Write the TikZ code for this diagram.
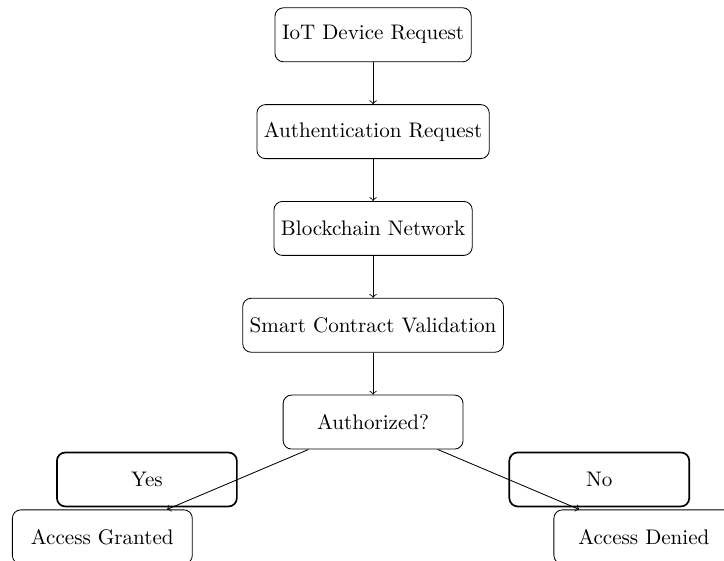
\documentclass[tikz,border=0pt]{standalone}
\usetikzlibrary{positioning}
\begin{document}
\begin{tikzpicture}[node distance=0.7cm,
 box/.style={draw,rounded corners,minimum width=3cm,minimum height=0.9cm,align=center},
 flow/.style={->}]
 \useasboundingbox (-6.22,0.58) rectangle (5.85,-8.77);
 \node[box] (iot) at (0,0) {IoT Device Request};
 \node[box,below=of iot] (auth) {Authentication Request};
 \node[box,below=of auth] (chain) {Blockchain Network};
 \node[box,below=of chain] (contract) {Smart Contract Validation};
 \node[box,below=of contract] (dec) {Authorized?};
 \node[box,below left=1cm and 1.5cm of dec] (granted) {Access Granted};
 \node[box,below right=1cm and 1.5cm of dec] (denied) {Access Denied};
 % arrows
 \draw[flow] (iot) -- (auth);
 \draw[flow] (auth) -- (chain);
 \draw[flow] (chain) -- (contract);
 \draw[flow] (contract) -- (dec);
 \draw[flow] (dec) -- node[box,thick,midway,left] (yes) {Yes} (granted);
 \draw[flow] (dec) -- node[box,thick,midway,right] (no) {No} (denied);
\end{tikzpicture}
\end{document}
